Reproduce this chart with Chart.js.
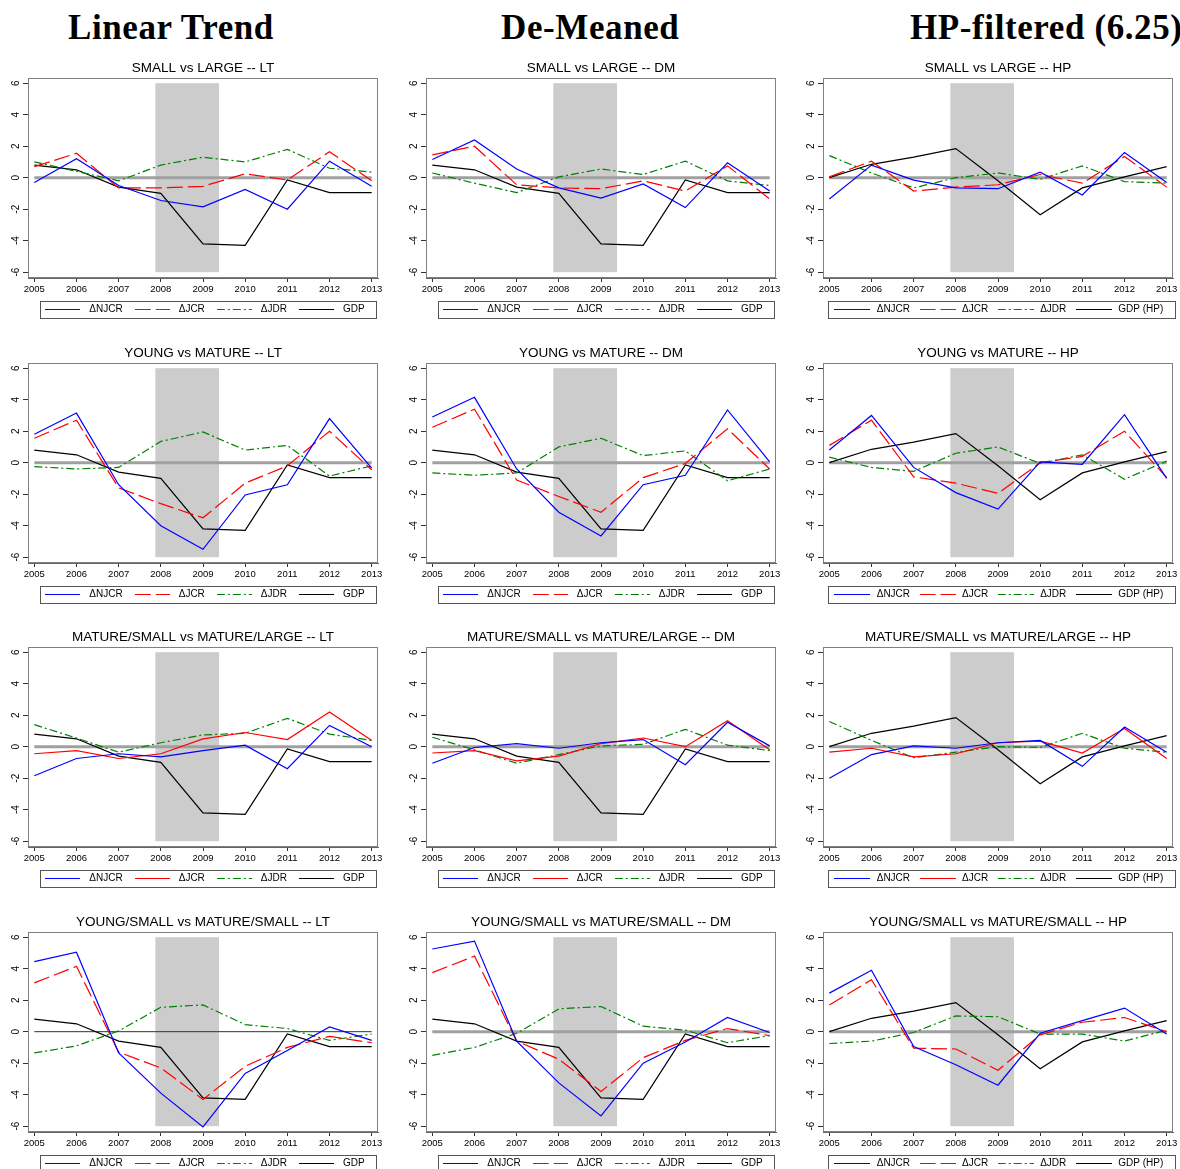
<!DOCTYPE html>
<html>
<head>
<meta charset="utf-8">
<script src="https://cdn.jsdelivr.net/npm/chart.js@4.4.0/dist/chart.umd.min.js"></script>
<style>
  body { margin: 0; background: #fff; width: 1180px; height: 1169px; overflow: hidden; position: relative; }
  .head { position: absolute; top: 8px; font-family: "Liberation Serif", serif; font-weight: bold; font-size: 35px; line-height: 40px; letter-spacing: 0.6px; white-space: nowrap; }
  .panel { position: absolute; }
</style>
</head>
<body>
<div class="head" style="left:68px">Linear Trend</div>
<div class="head" style="left:501px">De-Meaned</div>
<div class="head" style="left:910px">HP-filtered (6.25)</div>

<script>
const years = [2005, 2006, 2007, 2008, 2009, 2010, 2011, 2012, 2013];
const yTicks = [-6, -4, -2, 0, 2, 4, 6];
const recessionStart = 2007.87;
const recessionEnd = 2009.38;

// GDP (same in LT and DM columns) and HP-filtered GDP
const gdp = [0.8, 0.5, -0.6, -1.0, -4.2, -4.3, -0.15, -0.95, -0.95];
const gdpHP = [0.0, 0.85, 1.3, 1.85, -0.2, -2.35, -0.65, 0.05, 0.7];

// SMALL vs LARGE
const slLT_njcr = [-0.3, 1.2, -0.5, -1.45, -1.85, -0.75, -2.0, 1.05, -0.55];
const slLT_jcr = [0.7, 1.55, -0.65, -0.65, -0.55, 0.25, -0.15, 1.65, -0.2];
const slLT_jdr = [1.0, 0.4, -0.2, 0.8, 1.3, 1.0, 1.8, 0.6, 0.35];
const slDM_njcr = [1.15, 2.4, 0.55, -0.65, -1.3, -0.4, -1.9, 0.95, -0.85];
const slDM_jcr = [1.45, 2.0, -0.45, -0.65, -0.7, -0.2, -0.85, 0.75, -1.35];
const slDM_jdr = [0.3, -0.35, -0.95, 0.05, 0.55, 0.2, 1.05, -0.2, -0.5];
const slHP_njcr = [-1.35, 0.8, -0.15, -0.65, -0.7, 0.35, -1.1, 1.6, -0.3];
const slHP_jcr = [0.05, 1.05, -0.85, -0.6, -0.45, 0.2, -0.35, 1.35, -0.6];
const slHP_jdr = [1.4, 0.3, -0.65, 0.0, 0.3, -0.1, 0.75, -0.25, -0.35];

// YOUNG vs MATURE
const ymLT_njcr = [1.8, 3.15, -1.4, -4.0, -5.5, -2.05, -1.4, 2.8, -0.35];
const ymLT_jcr = [1.55, 2.7, -1.6, -2.6, -3.5, -1.3, -0.2, 2.0, -0.45];
const ymLT_jdr = [-0.25, -0.4, -0.3, 1.35, 1.95, 0.8, 1.1, -0.85, -0.2];
const ymDM_njcr = [2.9, 4.15, -0.4, -3.15, -4.65, -1.4, -0.8, 3.35, 0.05];
const ymDM_jcr = [2.25, 3.4, -1.1, -2.15, -3.15, -0.95, -0.05, 2.15, -0.4];
const ymDM_jdr = [-0.65, -0.8, -0.65, 1.0, 1.55, 0.45, 0.75, -1.15, -0.4];
const ymHP_njcr = [0.8, 3.0, -0.3, -1.9, -2.95, 0.05, -0.1, 3.05, -1.0];
const ymHP_jcr = [1.1, 2.7, -0.9, -1.3, -1.95, 0.0, 0.4, 2.0, -0.95];
const ymHP_jdr = [0.35, -0.3, -0.55, 0.6, 1.0, -0.05, 0.5, -1.05, 0.1];

// MATURE/SMALL vs MATURE/LARGE
const msLT_njcr = [-1.85, -0.75, -0.45, -0.65, -0.25, 0.1, -1.4, 1.35, 0.0];
const msLT_jcr = [-0.45, -0.25, -0.75, -0.45, 0.5, 0.9, 0.45, 2.2, 0.4];
const msLT_jdr = [1.4, 0.55, -0.35, 0.25, 0.75, 0.85, 1.8, 0.8, 0.4];
const msDM_njcr = [-1.05, -0.05, 0.2, -0.1, 0.25, 0.45, -1.15, 1.55, 0.05];
const msDM_jcr = [-0.4, -0.25, -0.9, -0.6, 0.2, 0.55, 0.0, 1.65, -0.2];
const msDM_jdr = [0.6, -0.2, -1.05, -0.5, 0.05, 0.15, 1.1, 0.1, -0.25];
const msHP_njcr = [-2.0, -0.5, 0.05, -0.1, 0.25, 0.4, -1.25, 1.25, -0.35];
const msHP_jcr = [-0.35, -0.1, -0.65, -0.45, 0.25, 0.35, -0.4, 1.15, -0.75];
const msHP_jdr = [1.6, 0.4, -0.7, -0.35, 0.0, -0.05, 0.85, -0.1, -0.35];

// YOUNG/SMALL vs MATURE/SMALL
const ysLT_njcr = [4.45, 5.05, -1.35, -3.9, -6.05, -2.65, -1.2, 0.3, -0.55];
const ysLT_jcr = [3.1, 4.15, -1.3, -2.3, -4.3, -2.2, -1.0, -0.3, -0.7];
const ysLT_jdr = [-1.35, -0.9, 0.05, 1.55, 1.7, 0.45, 0.2, -0.55, -0.15];
const ysDM_njcr = [5.25, 5.75, -0.6, -3.25, -5.35, -2.0, -0.65, 0.9, -0.05];
const ysDM_jcr = [3.75, 4.8, -0.6, -1.75, -3.8, -1.65, -0.55, 0.2, -0.25];
const ysDM_jdr = [-1.5, -1.0, -0.1, 1.45, 1.6, 0.35, 0.1, -0.7, -0.25];
const ysHP_njcr = [2.45, 3.9, -0.95, -2.1, -3.4, -0.1, 0.7, 1.5, -0.15];
const ysHP_jcr = [1.7, 3.3, -1.05, -1.1, -2.45, -0.2, 0.6, 0.9, 0.0];
const ysHP_jdr = [-0.75, -0.6, -0.05, 1.0, 0.95, -0.15, -0.15, -0.6, 0.1];

const rowNames = ["SMALL vs LARGE", "YOUNG vs MATURE", "MATURE/SMALL vs MATURE/LARGE", "YOUNG/SMALL vs MATURE/SMALL"];
const colKeys = ["LT", "DM", "HP"];
const series = [
  [[slLT_njcr, slLT_jcr, slLT_jdr], [slDM_njcr, slDM_jcr, slDM_jdr], [slHP_njcr, slHP_jcr, slHP_jdr]],
  [[ymLT_njcr, ymLT_jcr, ymLT_jdr], [ymDM_njcr, ymDM_jcr, ymDM_jdr], [ymHP_njcr, ymHP_jcr, ymHP_jdr]],
  [[msLT_njcr, msLT_jcr, msLT_jdr], [msDM_njcr, msDM_jcr, msDM_jdr], [msHP_njcr, msHP_jcr, msHP_jdr]],
  [[ysLT_njcr, ysLT_jcr, ysLT_jdr], [ysDM_njcr, ysDM_jcr, ysDM_jdr], [ysHP_njcr, ysHP_jcr, ysHP_jdr]],
];

const toPoints = arr => years.map((x, i) => ({ x: x, y: arr[i] }));

// little line images used as legend keys
function legendKey(color, dash, w) {
  const cv = document.createElement("canvas");
  cv.width = w;
  cv.height = 3;
  const g = cv.getContext("2d");
  g.strokeStyle = color;
  g.lineWidth = 1.2;
  g.setLineDash(dash);
  g.beginPath();
  g.moveTo(0, 1.5);
  g.lineTo(w, 1.5);
  g.stroke();
  return cv;
}

// shaded recession, plot frame and legend box
const panelDecor = {
  id: "panelDecor",
  beforeDatasetsDraw(chart) {
    const { ctx, scales } = chart;
    const x1 = scales.x.getPixelForValue(recessionStart);
    const x2 = scales.x.getPixelForValue(recessionEnd);
    const y1 = scales.y.getPixelForValue(6);
    const y2 = scales.y.getPixelForValue(-6);
    ctx.save();
    ctx.fillStyle = "#cccccc";
    ctx.fillRect(x1, y1, x2 - x1, y2 - y1);
    ctx.restore();
  },
  afterDraw(chart, args, opts) {
    const { ctx, chartArea } = chart;
    ctx.save();
    ctx.strokeStyle = "#808080";
    ctx.lineWidth = 1;
    ctx.strokeRect(Math.round(chartArea.left) + 0.5, Math.round(chartArea.top) + 0.5,
      Math.round(chartArea.width) - 1, Math.round(chartArea.height) - 1);
    const hb = chart.legend.legendHitBoxes;
    if (hb && hb.length) {
      const cy = hb[0].top + hb[0].height / 2;
      ctx.strokeStyle = "#555";
      ctx.strokeRect(Math.round(chartArea.left + opts.boxLeft) + 0.5, Math.round(cy - 8.5) + 0.5,
        Math.round(chartArea.width - opts.boxLeft + opts.boxRight), 17);
    }
    ctx.restore();
  }
};

function makePanel(r, c) {
  const canvas = document.createElement("canvas");
  canvas.className = "panel";
  canvas.width = 392;
  canvas.height = 274;
  canvas.style.left = (c * 397.5) + "px";
  canvas.style.top = (53 + r * 284.5) + "px";
  document.body.appendChild(canvas);

  const [njcr, jcr, jdr] = series[r][c];
  const isHP = c === 2;
  const legPad = 8;
  const keyW = isHP ? 36 : 35;
  const slotW = isHP ? 39 : 43;
  const zeroThin = r === 3 && c === 0;
  const jcrDash = r === 2 ? [] : [16, 5];
  const jdrDash = [8, 3, 2, 3];

  new Chart(canvas.getContext("2d"), {
    type: "line",
    data: {
      datasets: [
        { label: "\u0394NJCR", data: toPoints(njcr), borderColor: "#0000ff", borderWidth: 1.2, order: 1,
          pointStyle: legendKey("#0000ff", [], keyW) },
        { label: "\u0394JCR", data: toPoints(jcr), borderColor: "#ff0000", borderWidth: 1.2,
          borderDash: jcrDash, order: 2, pointStyle: legendKey("#ff0000", jcrDash, keyW) },
        { label: "\u0394JDR", data: toPoints(jdr), borderColor: "#008000", borderWidth: 1.2,
          borderDash: jdrDash, order: 3, pointStyle: legendKey("#008000", jdrDash, keyW) },
        { label: isHP ? "GDP (HP)" : "GDP", data: toPoints(isHP ? gdpHP : gdp), borderColor: "#000000",
          borderWidth: 1.2, order: 4, pointStyle: legendKey("#000000", [], keyW) },
        { label: "zero", data: [{ x: 2005, y: 0 }, { x: 2013, y: 0 }],
          borderColor: zeroThin ? "#333333" : "#a0a0a0", borderWidth: zeroThin ? 1 : 3, order: 10 },
      ],
    },
    options: {
      responsive: false,
      animation: false,
      devicePixelRatio: 1,
      elements: { point: { radius: 0 }, line: { tension: 0, fill: false } },
      layout: { padding: { left: 0, right: 14, top: 0, bottom: 2.5 } },
      scales: {
        x: {
          type: "linear",
          min: 2004.85,
          max: 2013.15,
          afterBuildTicks: s => { s.ticks = years.map(v => ({ value: v })); },
          afterFit: s => { s.height = 26.5 - legPad; },
          grid: { drawOnChartArea: false, tickLength: 4, color: "#333" },
          border: { color: "#666" },
          ticks: {
            callback: v => String(v),
            color: "#000",
            padding: 1.3,
            maxRotation: 0,
            autoSkip: false,
            font: { family: "Liberation Sans", size: 9.5 },
          },
        },
        y: {
          min: -6.37,
          max: 6.33,
          afterBuildTicks: s => { s.ticks = yTicks.map(v => ({ value: v })); },
          afterFit: s => { s.width = 28; },
          grid: { drawOnChartArea: false, tickLength: 5, color: "#333" },
          border: { color: "#666" },
          ticks: {
            callback: v => String(v),
            color: "#000",
            minRotation: 90,
            maxRotation: 90,
            crossAlign: "center",
            padding: 2,
            font: { family: "Liberation Sans", size: 10 },
          },
        },
      },
      plugins: {
        title: {
          display: true,
          fullSize: false,
          text: rowNames[r] + " -- " + colKeys[c],
          color: "#000",
          font: { family: "Liberation Sans", size: 13.5, weight: "normal" },
          padding: { top: 6.9, bottom: 1.9 },
        },
        legend: {
          position: "bottom",
          fullSize: false,
          labels: {
            filter: item => item.text !== "zero",
            usePointStyle: true,
            pointStyleWidth: slotW,
            padding: legPad,
            color: "#000",
            font: { family: "Liberation Sans", size: 10 },
          },
        },
        tooltip: { enabled: false },
        panelDecor: { boxLeft: isHP ? 5 : 12, boxRight: isHP ? 2 : -2 },
      },
    },
    plugins: [panelDecor],
  });
}

for (let r = 0; r < 4; r++) {
  for (let c = 0; c < 3; c++) makePanel(r, c);
}
</script>
</body>
</html>
